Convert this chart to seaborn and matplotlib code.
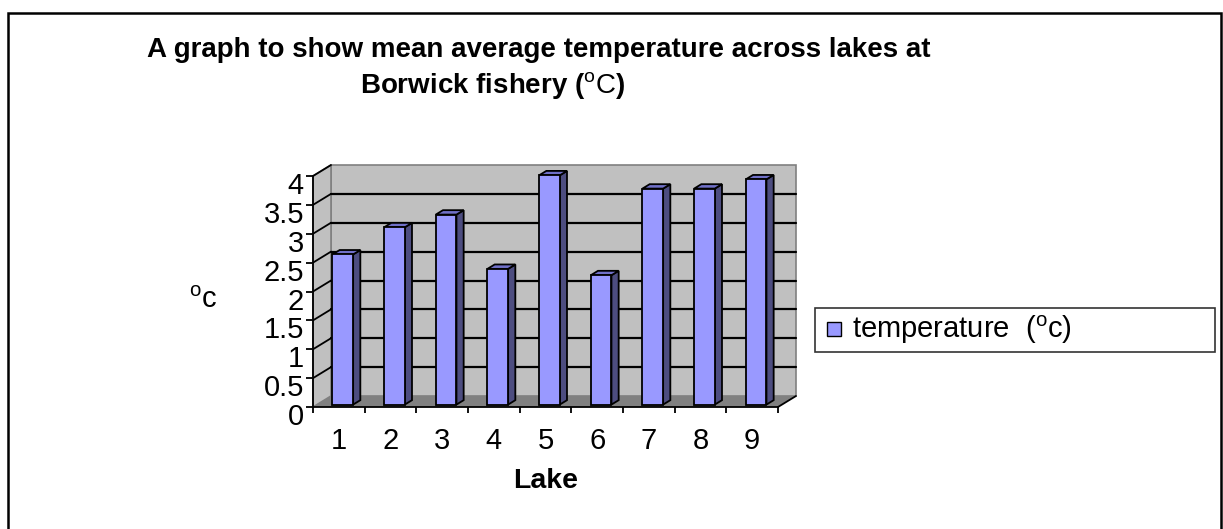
import numpy as np
import pandas as pd
import matplotlib
matplotlib.use("Agg")
import matplotlib.pyplot as plt
import matplotlib.transforms as mtransforms
from matplotlib.patches import Polygon, Rectangle
from matplotlib.lines import Line2D
import seaborn as sns

# ---- data ----
lakes = ["1", "2", "3", "4", "5", "6", "7", "8", "9"]
temperature = [2.60, 3.07, 3.29, 2.35, 3.97, 2.24, 3.74, 3.74, 3.90]
y_ticks = [0, 0.5, 1, 1.5, 2, 2.5, 3, 3.5, 4]

title_line1 = "A graph to show mean average temperature across lakes at"
title_line2 = r"Borwick fishery ($^{\mathrm{o}}\mathrm{C}$)"
x_label = "Lake"
y_label = r"$^{\mathrm{o}}\mathrm{c}$"
legend_label = r"temperature  ($^{\mathrm{o}}$c)"

df = pd.DataFrame({"Lake": lakes, "temperature": temperature})

sns.set_style("white")
plt.rcParams["font.family"] = ["Liberation Sans", "DejaVu Sans"]
plt.rcParams["mathtext.fontset"] = "custom"
plt.rcParams["mathtext.rm"] = "Liberation Sans"
plt.rcParams["mathtext.it"] = "Liberation Sans:italic"
plt.rcParams["mathtext.bf"] = "Liberation Sans:bold"
plt.rcParams["text.color"] = "black"
plt.rcParams["axes.labelcolor"] = "black"
plt.rcParams["xtick.color"] = "black"
plt.rcParams["ytick.color"] = "black"

W, H = 1223, 529
fig = plt.figure(figsize=(W / 100, H / 100), dpi=100)
fig.patch.set_facecolor("white")

def fx(px):
    return px / W

def fy(py):
    return 1 - py / H

# front plane of the plot
L, R, B, T = 313, 778, 407, 176
ax = fig.add_axes([L / W, (H - B) / H, (R - L) / W, (B - T) / H])
ax.set_facecolor("none")

BAR_COLOR = "#9999ff"
SIDE_COLOR = "#4d4d80"
TOP_COLOR = "#7070c8"
WALL = "#c0c0c0"
FLOOR = "#808080"

sns.barplot(data=df, x="Lake", y="temperature", color=BAR_COLOR, saturation=1,
            width=0.4, edgecolor="black", linewidth=1.3, ax=ax)
ax.set_xlim(-0.5, len(lakes) - 0.5)
ax.set_ylim(0, 4)

# depth vector (display pixels)
DX, DY = 18.0, 11.0
d_front, d_back = 0.22, 0.62

def P(x, y, d):
    p = ax.transData.transform((x, y))
    return (p[0] + d * DX, p[1] + d * DY)

ident = mtransforms.IdentityTransform()
x0, x1 = ax.get_xlim()

def add_poly(pts, fc, ec, lw, z):
    poly = Polygon(pts, closed=True, facecolor=fc, edgecolor=ec, lw=lw,
                   transform=ident, zorder=z, clip_on=False)
    ax.add_patch(poly)

def add_line(a, b, lw, z, color="black"):
    ln = Line2D([a[0], b[0]], [a[1], b[1]], color=color, lw=lw,
                transform=ident, zorder=z, clip_on=False)
    ax.add_line(ln)

# back wall
add_poly([P(x0, 0, 1), P(x1, 0, 1), P(x1, 4, 1), P(x0, 4, 1)], WALL, "#808080", 1.2, 0.5)
# left wall
add_poly([P(x0, 0, 0), P(x0, 0, 1), P(x0, 4, 1), P(x0, 4, 0)], WALL, "#808080", 1.2, 0.6)
# gridlines
for v in y_ticks[1:]:
    a, b, c = P(x0, v, 0), P(x0, v, 1), P(x1, v, 1)
    if v < 4:
        add_line(b, c, 1.6, 0.7)
    add_line(a, b, 1.3, 0.7)
# floor
add_poly([P(x0, 0, 0), P(x1, 0, 0), P(x1, 0, 1), P(x0, 0, 1)], FLOOR, "none", 0, 0.8)
add_line(P(x1, 0, 0), P(x1, 0, 1), 1.3, 0.9)

# bars: shift front faces back, add side and top faces
off = mtransforms.ScaledTranslation(d_front * DX / 100, d_front * DY / 100, fig.dpi_scale_trans)
bars = [p for p in ax.patches if isinstance(p, matplotlib.patches.Rectangle)]
for p in bars:
    bx, bw, bh = p.get_x(), p.get_width(), p.get_height()
    if bh <= 0:
        continue
    p.set_transform(ax.transData + off)
    p.set_zorder(3)
    p.set_clip_on(False)
    add_poly([P(bx + bw, 0, d_front), P(bx + bw, 0, d_back),
              P(bx + bw, bh, d_back), P(bx + bw, bh, d_front)], SIDE_COLOR, "black", 1.3, 2.9)
    add_poly([P(bx, bh, d_front), P(bx + bw, bh, d_front),
              P(bx + bw, bh, d_back), P(bx, bh, d_back)], TOP_COLOR, "black", 1.3, 2.9)

# spines / ticks
for s in ["top", "right"]:
    ax.spines[s].set_visible(False)
ax.spines["left"].set_color("black")
ax.spines["left"].set_linewidth(1.3)
ax.spines["bottom"].set_color("black")
ax.spines["bottom"].set_linewidth(1.3)
ax.set_yticks(y_ticks)
ax.set_yticklabels([f"{v:g}" for v in y_ticks])
ax.tick_params(axis="y", direction="out", length=5, width=1.3, pad=1.5,
               labelsize=21, left=True, colors="black")
ax.set_xticks(range(len(lakes)))
ax.set_xticklabels(lakes)
ax.set_xticks(np.arange(-0.5, len(lakes), 1.0), minor=True)
ax.tick_params(axis="x", which="major", length=0, pad=14.5, labelsize=21)
ax.tick_params(axis="x", which="minor", direction="out", length=4.5, width=1.3, bottom=True)
ax.set_xlabel("")
ax.set_ylabel("")
down = mtransforms.ScaledTranslation(0, -7 / 100, fig.dpi_scale_trans)
for lab in ax.get_yticklabels():
    lab.set_transform(lab.get_transform() + down)

# titles and labels
fig.text(fx(147), fy(57), title_line1, ha="left", va="baseline",
         fontsize=20, fontweight="bold")
fig.text(fx(360), fy(93), title_line2, ha="left", va="baseline",
         fontsize=20, fontweight="bold")
fig.text(fx(513), fy(488), x_label, ha="left", va="baseline",
         fontsize=20.5, fontweight="bold")
fig.text(fx(189), fy(308), y_label, ha="left", va="baseline", fontsize=21)

# legend
handle = Line2D([], [], linestyle="none", marker="s", markersize=10,
                markerfacecolor=BAR_COLOR, markeredgecolor="black", markeredgewidth=1.0)
leg = fig.legend(handles=[handle], labels=[legend_label], loc="center",
                 bbox_to_anchor=(fx(815), fy(349), (1215 - 815) / W, 38 / H),
                 mode="expand", borderaxespad=0, frameon=True, fancybox=False,
                 edgecolor="black", fontsize=21, handlelength=0.87, handleheight=0.5,
                 handletextpad=0.2, borderpad=0.2)
leg.get_frame().set_linewidth(1.2)

# outer border
fig.add_artist(Rectangle((8 / W, -0.01), (1221 - 8) / W, 1 - 13 / H + 0.01,
                         transform=fig.transFigure, fill=False, edgecolor="black", lw=1.8))

fig.savefig("out.png", dpi=100, facecolor="white")
